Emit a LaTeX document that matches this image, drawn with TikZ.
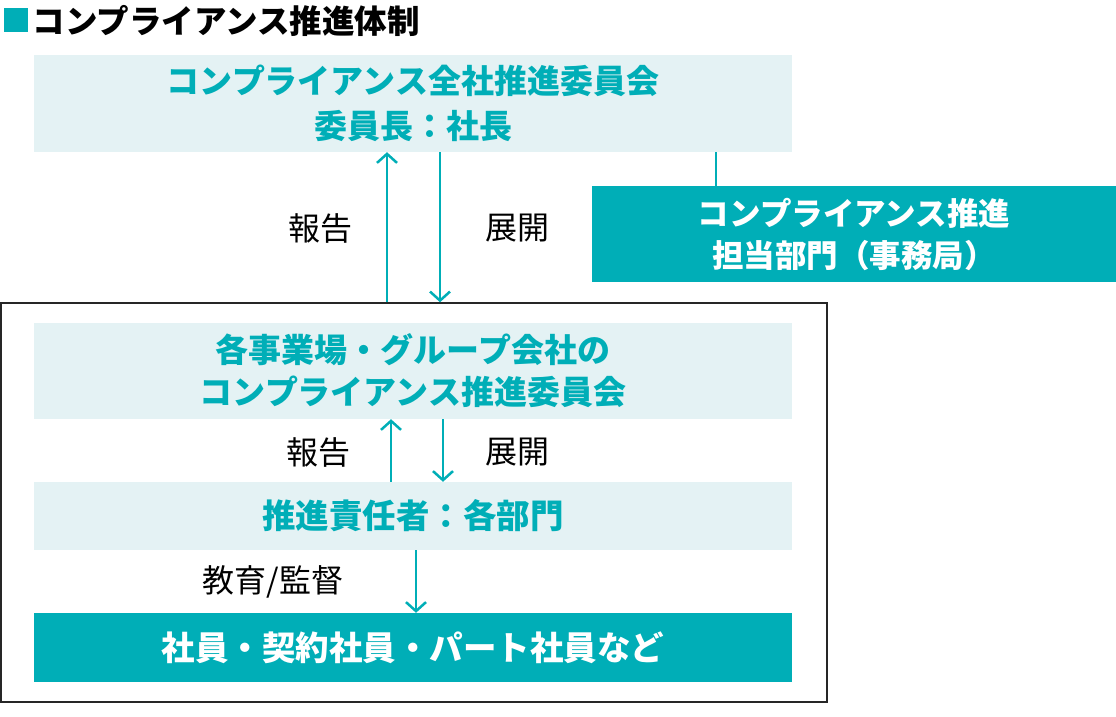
\documentclass[tikz,border=0pt]{standalone}
\usepackage{fontspec}
\setmainfont{Noto Sans CJK JP}
\usepackage{tikz}
\usetikzlibrary{arrows.meta,positioning}
\definecolor{teal}{RGB}{0,174,183}
\definecolor{pale}{RGB}{228,242,244}
\tikzstyle{palebox} = [rectangle, fill=pale, text=teal, align=center,
    minimum width=758pt, inner sep=0pt]
\tikzstyle{tealbox} = [rectangle, fill=teal, text=white, align=center,
    inner sep=0pt]
\tikzstyle{frame} = [rectangle, draw=black!85, line width=1.5pt, inner sep=0pt]
\tikzstyle{note} = [font=\fontsize{32}{38}\selectfont]
\tikzstyle{line} = [draw, teal, line width=2.5pt,
    -{Straight Barb[length=9pt,width=20pt]}]
\tikzstyle{tie} = [draw, teal, line width=2.5pt]

\begin{document}
\begin{tikzpicture}[x=1pt, y=-1pt]
        \useasboundingbox (0,0) rectangle (1116,717);
        % Place nodes
        \node [fill=teal, minimum size=24pt, inner sep=0pt] (mark) at (15.5,20.5) {};
        \node [right=5pt of mark, inner sep=0pt,
            font=\fontsize{32.5}{32.5}\selectfont\bfseries] (heading) {コンプライアンス推進体制};
        \node [palebox, minimum height=97pt,
            font=\fontsize{33}{45}\selectfont\bfseries] (top) at (413,103.5)
            {コンプライアンス全社推進委員会\\委員長：社長};
        \node [tealbox, minimum width=524pt, minimum height=96pt,
            font=\fontsize{31.5}{42}\selectfont\bfseries] (office) at (854,234)
            {コンプライアンス推進\\担当部門（事務局）};
        \node [frame, minimum width=826pt, minimum height=399pt] (group) at (414,502.5) {};
        \node [palebox, minimum height=96pt,
            font=\fontsize{33}{42}\selectfont\bfseries] (site) at (413,371)
            {各事業場・グループ会社の\\コンプライアンス推進委員会};
        \node [palebox, minimum height=68pt,
            font=\fontsize{33.5}{40}\selectfont\bfseries] (dept) at (413,516)
            {推進責任者：各部門};
        \node [tealbox, minimum width=758pt, minimum height=69pt,
            font=\fontsize{33.5}{40}\selectfont\bfseries] (staff) at (413,647.5)
            {社員・契約社員・パート社員など};
        \node [note] (report) at (320,228) {報告};
        \node [note] (deploy) at (517,228) {展開};
        \node [note] (report2) at (318,452) {報告};
        \node [note] (deploy2) at (517,452) {展開};
        \node [note] (educate) at (273,582) {教育/監督};
        % Draw edges
        \path [line] ([xshift=-26pt]top.south |- group.north) -- ([xshift=-26pt]top.south);
        \path [line] ([xshift=27pt]top.south) -- ([xshift=27pt]top.south |- group.north);
        \path [tie] ([xshift=-138pt]office.north |- top.south) -- ([xshift=-138pt]office.north);
        \path [line] ([xshift=-22pt]dept.north) -- ([xshift=-22pt]site.south);
        \path [line] ([xshift=30pt]site.south) -- ([xshift=30pt]dept.north);
        \path [line] ([xshift=3pt]dept.south) -- ([xshift=3pt]staff.north);
    \end{tikzpicture}
\end{document}
